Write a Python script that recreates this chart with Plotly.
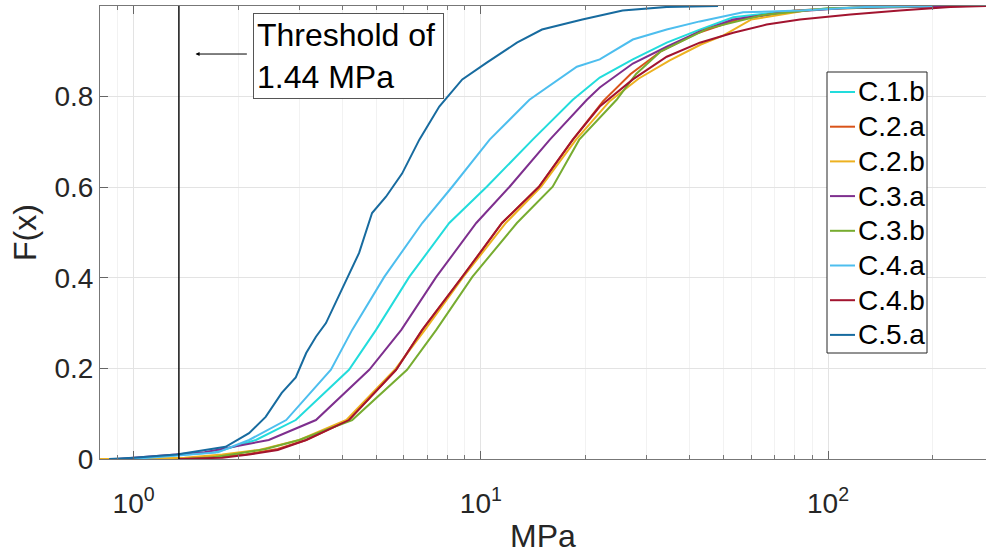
import plotly.graph_objects as go
import math

# ---- data (MPa, cumulative probability) ----
c1b_x = [0.95, 1.3, 1.72, 2.25, 2.93, 4.17, 4.99, 6.22, 8.11, 10.4, 14.1, 18.4, 22.0, 27.4, 34.3, 42.7, 53.3, 74.3, 103, 200]
c1b_y = [0.0, 0.008, 0.015, 0.042, 0.086, 0.197, 0.285, 0.402, 0.521, 0.601, 0.705, 0.793, 0.842, 0.882, 0.919, 0.948, 0.975, 0.988, 0.995, 1.0]

c2a_x = [1.3, 1.6, 2.1, 2.6, 3.14, 4.17, 5.70, 6.78, 8.84, 11.5, 14.7, 18.4, 22.5, 27.0, 33.0, 42.0, 55.0, 80.0, 150]
c2a_y = [0.0, 0.003, 0.01, 0.022, 0.042, 0.086, 0.197, 0.285, 0.402, 0.521, 0.601, 0.705, 0.79, 0.85, 0.9, 0.94, 0.97, 0.99, 1.0]

c2b_x = [0.8, 1.0, 1.4, 1.8, 2.3, 3.0, 4.1, 5.65, 6.9, 8.9, 11.8, 14.9, 18.8, 23.5, 28.5, 35.0, 43.0, 50.0, 60.0, 90.0, 180]
c2b_y = [0.0, 0.0, 0.003, 0.01, 0.02, 0.042, 0.086, 0.197, 0.285, 0.402, 0.521, 0.601, 0.705, 0.79, 0.84, 0.88, 0.915, 0.935, 0.97, 0.992, 1.0]

c3a_x = [0.9, 1.3, 1.6, 2.45, 3.35, 4.77, 5.90, 7.44, 9.70, 12.1, 15.8, 20.2, 22.0, 27.4, 34.3, 42.7, 53.3, 74.3, 110, 250]
c3a_y = [0.0, 0.01, 0.015, 0.042, 0.086, 0.197, 0.285, 0.402, 0.521, 0.601, 0.705, 0.793, 0.82, 0.873, 0.91, 0.944, 0.97, 0.986, 0.995, 1.0]

c3b_x = [1.4, 1.7, 2.0, 2.4, 3.0, 4.26, 6.13, 7.44, 9.45, 12.7, 16.1, 19.2, 24.6, 28.0, 33.0, 45.0, 65.0, 100, 200]
c3b_y = [0.0, 0.004, 0.012, 0.022, 0.042, 0.086, 0.197, 0.285, 0.402, 0.521, 0.601, 0.705, 0.793, 0.85, 0.9, 0.95, 0.98, 0.995, 1.0]

c4a_x = [1.0, 1.35, 1.75, 2.15, 2.75, 3.70, 4.26, 5.27, 6.78, 8.27, 10.6, 13.8, 18.9, 22.0, 27.4, 34.3, 42.7, 56.9, 83.0, 129, 200]
c4a_y = [0.0, 0.008, 0.015, 0.042, 0.086, 0.197, 0.285, 0.402, 0.521, 0.601, 0.705, 0.793, 0.866, 0.882, 0.926, 0.948, 0.966, 0.986, 0.99, 0.998, 1.0]

c4b_x = [1.35, 1.8, 2.15, 2.6, 3.14, 4.17, 5.70, 6.78, 8.84, 11.5, 14.7, 18.4, 22.0, 27.4, 34.3, 42.7, 53.3, 66.5, 83.0, 116, 161, 225, 285]
c4b_y = [0.0, 0.003, 0.01, 0.02, 0.042, 0.086, 0.197, 0.285, 0.402, 0.521, 0.601, 0.705, 0.778, 0.838, 0.888, 0.919, 0.941, 0.959, 0.97, 0.981, 0.99, 0.998, 1.0]

c5a_x = [0.85, 1.0, 1.33, 1.84, 2.15, 2.40, 2.67, 2.93, 3.14, 3.35, 3.58, 3.98, 4.46, 4.86, 5.33, 5.93, 6.65, 7.59, 8.84, 10.4, 12.7, 15.0, 19.6, 25.6, 34.3, 48.2]
c5a_y = [0.0, 0.003, 0.01, 0.027, 0.057, 0.093, 0.146, 0.18, 0.234, 0.27, 0.30, 0.373, 0.455, 0.543, 0.579, 0.63, 0.705, 0.778, 0.838, 0.875, 0.919, 0.948, 0.970, 0.99, 0.998, 1.0]

names = ["C.1.b", "C.2.a", "C.2.b", "C.3.a", "C.3.b", "C.4.a", "C.4.b", "C.5.a"]
xs = [c1b_x, c2a_x, c2b_x, c3a_x, c3b_x, c4a_x, c4b_x, c5a_x]
ys = [c1b_y, c2a_y, c2b_y, c3a_y, c3b_y, c4a_y, c4b_y, c5a_y]
colors = ["#22dcdc", "#d95319", "#edb120", "#7e2f8e", "#77ac30", "#4dbeee", "#a2142f", "#176b9f"]

threshold_x = 1.35
x_ticks = [1, 10, 100]
x_ticktext = ["10<sup>0</sup>", "10<sup>1</sup>", "10<sup>2</sup>"]
y_ticks = [0, 0.2, 0.4, 0.6, 0.8]
y_ticktext = ["0", "0.2", "0.4", "0.6", "0.8"]

FONT = "Liberation Sans, Arial, sans-serif"

# figure geometry (pixels)
W, H = 986, 554
L, R, T, B = 100, 0, 6, 95
PW, PH = W - L - R, H - T - B


def px(xp):
    return (xp - L) / PW


def py(yp):
    return (H - B - yp) / PH


fig = go.Figure()
for n, x, y, c in zip(names, xs, ys, colors):
    fig.add_trace(go.Scatter(x=x, y=y, mode="lines", name=n,
                             line=dict(color=c, width=2), showlegend=False))

fig.add_trace(go.Scatter(x=[threshold_x, threshold_x], y=[0, 1], mode="lines",
                         line=dict(color="black", width=1.4), showlegend=False,
                         hoverinfo="skip"))

# threshold text box and arrow
fig.add_annotation(x=math.log10(2.2), y=0.795, xref="x", yref="y",
                   text="Threshold of<br>1.44 MPa", showarrow=False,
                   xanchor="left", yanchor="bottom", align="left",
                   width=183,
                   font=dict(family=FONT, size=32, color="black"),
                   bordercolor="#555", borderwidth=1, bgcolor="white",
                   borderpad=3)
fig.add_annotation(x=math.log10(1.508), y=0.894, xref="x", yref="y",
                   ax=math.log10(2.14), ay=0.894, axref="x", ayref="y",
                   text="", showarrow=True, arrowhead=2, arrowsize=0.8,
                   arrowwidth=1, arrowcolor="black")

# legend (box, line samples, labels)
leg_left, leg_right, leg_top, leg_bottom = 827, 927, 72, 353
fig.add_shape(type="rect", xref="paper", yref="paper",
              x0=px(leg_left), x1=px(leg_right), y0=py(leg_bottom), y1=py(leg_top),
              line=dict(color="#262626", width=1), fillcolor="white", layer="above")
for i, (n, c) in enumerate(zip(names, colors)):
    yc = 92 + 34.7 * i
    fig.add_shape(type="line", xref="paper", yref="paper",
                  x0=px(830), x1=px(855), y0=py(yc), y1=py(yc),
                  line=dict(color=c, width=2), layer="above")
    fig.add_annotation(x=px(856), y=py(yc), xref="paper", yref="paper",
                       text=n, showarrow=False, xanchor="left", yanchor="middle",
                       font=dict(family=FONT, size=28, color="black"))

fig.update_layout(
    width=W, height=H,
    margin=dict(l=L, r=R, t=T, b=B, pad=0),
    paper_bgcolor="white", plot_bgcolor="white",
    font=dict(family=FONT, size=28, color="#262626"),
    showlegend=False,
    xaxis=dict(type="log", range=[math.log10(0.8), math.log10(285)],
               tickvals=x_ticks, ticktext=x_ticktext, automargin=False,
               ticks="inside", ticklen=8, tickcolor="#666", ticklabelstandoff=19,
               showline=True, linecolor="#777", linewidth=1, mirror="ticks",
               showgrid=True, gridcolor="#e3e3e3", gridwidth=1,
               minor=dict(ticks="inside", ticklen=4, tickcolor="#777",
                          showgrid=True, gridcolor="#f2f2f2", gridwidth=1,
                          tickvals=[0.9, 2, 3, 4, 5, 6, 7, 8, 9, 20, 30, 40, 50, 60, 70, 80, 90, 200]),
               zeroline=False,
               title=dict(text="MPa", font=dict(family=FONT, size=32, color="#262626"), standoff=8)),
    yaxis=dict(range=[0, 1], tickvals=y_ticks, ticktext=y_ticktext, automargin=False,
               ticks="inside", ticklen=8, tickcolor="#666",
               showline=True, linecolor="#777", linewidth=1,
               showgrid=True, gridcolor="#e3e3e3", gridwidth=1,
               zeroline=False,
               title=dict(text="F(x)", font=dict(family=FONT, size=32, color="#262626"), standoff=8)),
)

fig.write_html("out.html", config={"displayModeBar": False},
               post_script="document.body.style.margin='0px';document.body.style.padding='0px';")
